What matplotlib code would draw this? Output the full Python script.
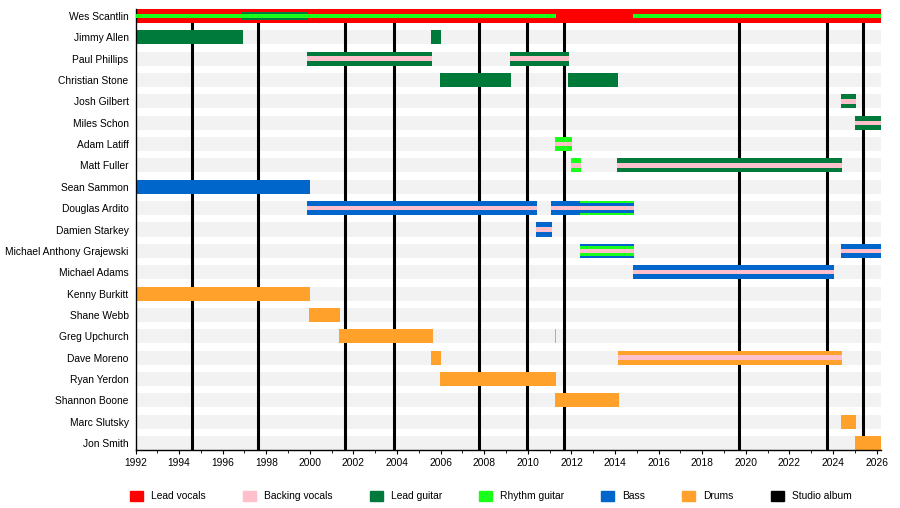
import matplotlib
matplotlib.use('Agg')
import matplotlib.pyplot as plt
from matplotlib.patches import Patch

plt.rcParams['font.family'] = ['Liberation Sans', 'DejaVu Sans']

members = ["Wes Scantlin", "Jimmy Allen", "Paul Phillips", "Christian Stone",
           "Josh Gilbert", "Miles Schon", "Adam Latiff", "Matt Fuller",
           "Sean Sammon", "Douglas Ardito", "Damien Starkey",
           "Michael Anthony Grajewski", "Michael Adams", "Kenny Burkitt",
           "Shane Webb", "Greg Upchurch", "Dave Moreno", "Ryan Yerdon",
           "Shannon Boone", "Marc Slutsky", "Jon Smith"]

# main role (full height bars)
lead_vocals = [("Wes Scantlin", 1992.0, 2026.2)]
lead_guitar = [("Jimmy Allen", 1992.0, 1996.93), ("Jimmy Allen", 2005.55, 2006.0),
               ("Paul Phillips", 1999.88, 2005.6), ("Paul Phillips", 2009.18, 2011.89),
               ("Christian Stone", 2005.97, 2009.22), ("Christian Stone", 2011.84, 2014.13),
               ("Josh Gilbert", 2024.36, 2025.05), ("Miles Schon", 2025.0, 2026.2),
               ("Matt Fuller", 2014.09, 2024.41)]
rhythm_guitar = [("Adam Latiff", 2011.24, 2012.02), ("Matt Fuller", 2011.98, 2012.44),
                 ("Douglas Ardito", 2012.39, 2014.85)]
bass = [("Sean Sammon", 1992.0, 2000.0), ("Douglas Ardito", 1999.88, 2010.42),
        ("Douglas Ardito", 2011.06, 2012.39), ("Damien Starkey", 2010.37, 2011.1),
        ("Michael Anthony Grajewski", 2012.39, 2014.85),
        ("Michael Anthony Grajewski", 2024.36, 2026.2),
        ("Michael Adams", 2014.82, 2024.04)]
drums = [("Kenny Burkitt", 1992.0, 2000.0), ("Shane Webb", 1999.97, 2001.38),
         ("Greg Upchurch", 2001.34, 2005.66), ("Greg Upchurch", 2011.23, 2011.3),
         ("Dave Moreno", 2005.55, 2006.0), ("Dave Moreno", 2014.13, 2024.41),
         ("Ryan Yerdon", 2005.97, 2011.29), ("Shannon Boone", 2011.24, 2014.18),
         ("Marc Slutsky", 2024.36, 2025.05), ("Jon Smith", 2025.0, 2026.2)]

# second role (medium bars)
lead_guitar_2 = [("Wes Scantlin", 1996.87, 1999.88)]
rhythm_guitar_2 = [("Michael Anthony Grajewski", 2012.39, 2014.85)]
bass_2 = [("Douglas Ardito", 2012.39, 2014.85)]

# thin stripes
rhythm_guitar_3 = [("Wes Scantlin", 1992.0, 2011.27), ("Wes Scantlin", 2014.82, 2026.2)]
backing_vocals = [("Paul Phillips", 1999.88, 2005.6), ("Paul Phillips", 2009.18, 2011.89),
                  ("Josh Gilbert", 2024.36, 2025.05), ("Miles Schon", 2025.0, 2026.2),
                  ("Adam Latiff", 2011.24, 2012.02), ("Matt Fuller", 2011.98, 2012.44),
                  ("Matt Fuller", 2014.09, 2024.41), ("Douglas Ardito", 1999.88, 2010.42),
                  ("Douglas Ardito", 2011.06, 2014.85), ("Damien Starkey", 2010.37, 2011.1),
                  ("Michael Anthony Grajewski", 2012.39, 2014.85),
                  ("Michael Anthony Grajewski", 2024.36, 2026.2),
                  ("Michael Adams", 2014.82, 2024.04), ("Dave Moreno", 2014.13, 2024.41)]

albums = [1994.6, 1997.63, 2001.62, 2003.87, 2007.77, 2009.94, 2011.67,
          2019.7, 2023.7, 2025.36]

C_VOX = '#ff0000'
C_BV = '#ffc0cb'
C_LG = '#007a3a'
C_RG = '#19ff19'
C_BASS = '#0066cc'
C_DRUMS = '#ffa12a'

START, END = 1992.0, 2026.2
H = 0.656
FS = 7.4

fig = plt.figure(figsize=(9, 5.08), dpi=100)
ax = fig.add_axes([135.5 / 900, 1 - 450 / 508, (881 - 135.5) / 900, 441 / 508])

row = {m: i for i, m in enumerate(members)}

# gray background stripes
ax.barh(range(len(members)), END - START, left=START, height=H,
        color='#f2f2f2', zorder=0)

# studio albums
ax.vlines(albums, 0, len(members) - 1 + H / 2, colors='black', linewidth=2.2, zorder=1)


def draw(spans, color, h, z):
    for name, a, b in spans:
        ax.barh(row[name], b - a, left=a, height=h, color=color, zorder=z,
                linewidth=0)


draw(lead_vocals, C_VOX, H, 2)
draw(lead_guitar, C_LG, H, 2)
draw(rhythm_guitar, C_RG, H, 2)
draw(bass, C_BASS, H, 2)
draw(drums, C_DRUMS, H, 2)

draw(lead_guitar_2, C_LG, H * 0.62, 3)
draw(rhythm_guitar_2, C_RG, H * 0.74, 3)
draw(bass_2, C_BASS, H * 0.74, 3)

draw(rhythm_guitar_3, C_RG, H * 0.3, 4)
draw(backing_vocals, C_BV, H * 0.32, 4)

ax.set_xlim(START, END)
ax.set_ylim(len(members) - 1 + H / 2, -H / 2)
ax.set_yticks(range(len(members)))
ax.set_yticklabels(members, fontsize=FS)
ax.tick_params(axis='y', length=0, pad=5)
ax.set_xticks(range(1992, 2027, 2))
ax.set_xticks(range(1992, 2027), minor=True)
ax.tick_params(axis='x', which='major', length=3, pad=3, labelsize=FS)
ax.tick_params(axis='x', which='minor', length=2)
for s in ['top', 'right']:
    ax.spines[s].set_visible(False)
ax.spines['left'].set_linewidth(1)
ax.spines['bottom'].set_linewidth(1)

handles = [Patch(color=c) for c in [C_VOX, C_BV, C_LG, C_RG, C_BASS, C_DRUMS, 'black']]
labels = ['Lead vocals', 'Backing vocals', 'Lead guitar', 'Rhythm guitar',
          'Bass', 'Drums', 'Studio album']
fig.legend(handles, labels, loc='center', bbox_to_anchor=(491 / 900, 1 - 496 / 508),
           ncol=7, frameon=False, fontsize=FS, handlelength=1.25, handleheight=1.25,
           handletextpad=0.8, columnspacing=3.6)

fig.savefig('out.png', dpi=100)
